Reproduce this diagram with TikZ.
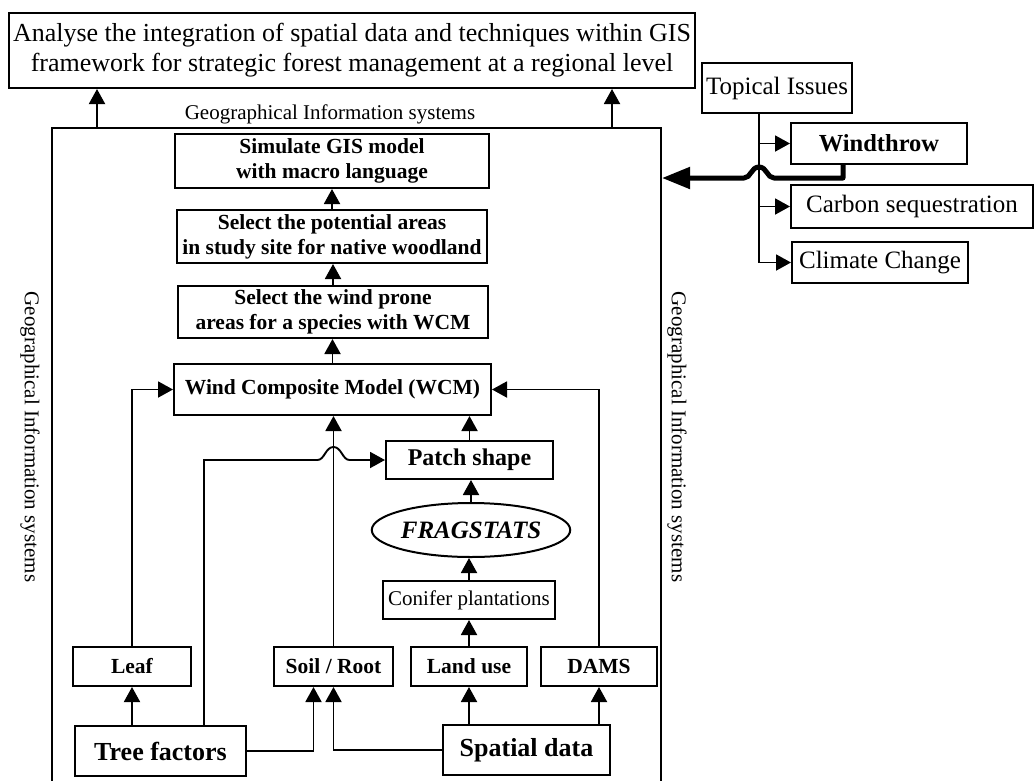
\documentclass[tikz,border=0pt]{standalone}
\usepackage{fontspec}
\setmainfont{Liberation Serif}
\usetikzlibrary{arrows.meta,shapes.geometric}

\begin{document}
\begin{tikzpicture}[x=1pt,y=-1pt,
  box/.style={draw, line width=2pt, inner sep=0pt, align=center,
    font=\fontsize{21.5}{25}\selectfont\bfseries},
  plainbox/.style={draw, line width=2pt, inner sep=0pt, align=center,
    font=\fontsize{25}{29}\selectfont},
  arr/.style={line width=1.9pt, -{Triangle[length=15pt,width=16pt]}},
  bigarr/.style={line width=5pt, line join=round,
    -{Triangle[length=28pt,width=21pt]}},
  sidelabel/.style={font=\fontsize{21}{25}\selectfont, inner sep=0pt}
]
\useasboundingbox (0,0) rectangle (1034,780);
\clip (0,0) rectangle (1034,780);

% aim of the study
\node[box, font=\fontsize{26}{30}\selectfont, minimum width=686pt, minimum height=75pt]
  (aim) at (352,50.5)
  {Analyse the integration of spatial data and techniques within GIS\\
   framework for strategic forest management at a regional level};

% GIS frame (open towards the bottom of the page)
\node[draw, line width=2pt, inner sep=0pt, anchor=north west,
  minimum width=609pt, minimum height=700pt] (gis) at (51,127) {};
\node[sidelabel] (gisT) at (330,114) {Geographical Information systems};
\node[sidelabel, rotate=-90] (gisL) at (30,437) {Geographical Information systems};
\node[sidelabel, rotate=-90] (gisR) at (677,437) {Geographical Information systems};

% model chain
\node[box, minimum width=314pt, minimum height=54pt] (sim) at (332,161)
  {Simulate GIS model\\with macro language};
\node[box, minimum width=310pt, minimum height=53pt] (pot) at (332,236.5)
  {Select the potential areas\\in study site for native woodland};
\node[box, minimum width=310pt, minimum height=52pt] (prone) at (333,312)
  {Select the wind prone\\areas for a species with WCM};
\node[box, minimum width=317pt, minimum height=51pt] (wcm) at (332.5,389.5)
  {Wind Composite Model (WCM)};

\node[box, font=\fontsize{24}{28}\selectfont\bfseries,
  minimum width=167pt, minimum height=38pt] (patch) at (469.5,460) {Patch shape};
\node[draw, ellipse, line width=2pt, inner sep=0pt,
  minimum width=182pt, minimum height=54pt,
  font=\fontsize{25}{29}\selectfont\bfseries\itshape] (frag) at (471,530) {FRAGSTATS};
\node[box, font=\fontsize{21}{25}\selectfont,
  minimum width=172pt, minimum height=38pt] (conifer) at (469,600) {Conifer plantations};

\node[box, minimum width=118pt, minimum height=39pt] (leaf) at (132,666.5) {Leaf};
\node[box, minimum width=119pt, minimum height=39pt] (soil) at (333.5,666.5) {Soil / Root};
\node[box, minimum width=116pt, minimum height=39pt] (land) at (469,666.5) {Land use};
\node[box, minimum width=116pt, minimum height=39pt] (dams) at (599,666.5) {DAMS};

\node[box, font=\fontsize{26}{30}\selectfont\bfseries,
  minimum width=171pt, minimum height=50pt] (tree) at (160.5,751) {Tree factors};
\node[box, font=\fontsize{26}{30}\selectfont\bfseries,
  minimum width=167pt, minimum height=50pt] (spatial) at (526.5,750) {Spatial data};

% topical issues
\node[plainbox, minimum width=150pt, minimum height=50pt] (topical) at (777,88) {Topical Issues};
\node[box, font=\fontsize{24.5}{28}\selectfont\bfseries,
  minimum width=176pt, minimum height=41pt] (wind) at (879,143.5) {Windthrow};
\node[plainbox, minimum width=242pt, minimum height=43pt] (carbon) at (912,206.5) {Carbon sequestration};
\node[plainbox, minimum width=176pt, minimum height=41pt] (climate) at (880,262.5) {Climate Change};

% GIS frame feeds the aim
\coordinate (g1) at ([xshift=46pt]gis.north west);
\coordinate (g2) at ([xshift=-50pt]gis.north east);
\draw[arr] (g1) -- (g1 |- aim.south);
\draw[arr] (g2) -- (g2 |- aim.south);

% upward chain
\draw[arr] (pot.north) -- (pot.north |- sim.south);
\draw[arr] (prone.north) -- (prone.north |- pot.south);
\draw[arr] (wcm.north) -- (wcm.north |- prone.south);

% inputs of the composite model
\draw[arr] (leaf.north) |- (wcm.west);
\draw[arr] (soil.north) -- (soil.north |- wcm.south);
\draw[arr] (patch.north) -- (patch.north |- wcm.south);
\draw[arr] (dams.north) |- (wcm.east);

% tree factors to patch shape, hopping over the soil line
\coordinate (tf) at ([xshift=43.5pt]tree.north);
\coordinate (hop) at (soil.north |- patch.west);
\draw[arr] (tf) |- ([xshift=-16pt]hop)
  .. controls +(7,0) and +(-8,0) .. ([yshift=13pt]hop)
  .. controls +(8,0) and +(-7,0) .. ([xshift=16pt]hop)
  -- (patch.west);

% landscape metrics chain
\draw[arr] (frag.north) -- (frag.north |- patch.south);
\draw[arr] (conifer.north) -- (conifer.north |- frag.south);
\draw[arr] (land.north) -- (land.north |- conifer.south);

% data sources
\draw[arr] (leaf.south |- tree.north) -- (leaf.south);
\draw[arr] (tree.east) -| ([xshift=-20pt]soil.south);
\draw[arr] (spatial.west) -| (soil.south);
\draw[arr] (land.south |- spatial.north) -- (land.south);
\draw[arr] (dams.south |- spatial.north) -- (dams.south);

% topical issues branches
\coordinate (tv) at ([xshift=-18pt]topical.south);
\draw[arr] (tv) |- (climate.west);
\draw[arr] (tv |- wind.west) -- (wind.west);
\draw[arr] (tv |- carbon.west) -- (carbon.west);

% windthrow feeds the GIS frame
\coordinate (wb) at ([xshift=-36pt]wind.south);
\coordinate (wc) at ([yshift=-13pt]wb);
\coordinate (h2) at (tv |- wc);
\draw[bigarr] (wb) -- (wc) -- ([xshift=15pt]h2)
  .. controls +(-7,0) and +(8,0) .. ([yshift=11pt]h2)
  .. controls +(-8,0) and +(7,0) .. ([xshift=-15pt]h2)
  -- (gis.east |- wc);
\end{tikzpicture}
\end{document}
